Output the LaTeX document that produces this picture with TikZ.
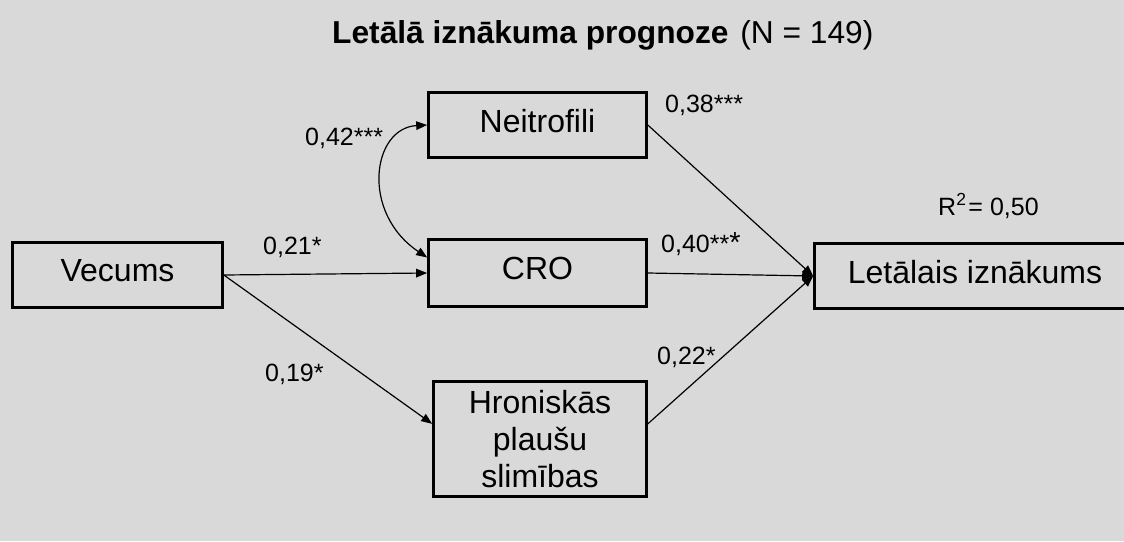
\documentclass[tikz,border=0pt]{standalone}
\usepackage{fontspec}
\setmainfont{Liberation Sans}
\usetikzlibrary{arrows.meta}
\definecolor{bg}{HTML}{D9D9D9}
\begin{document}
\begin{tikzpicture}[x=1pt,y=-1pt,
  box/.style={draw=black,line width=2.6pt,fill=none,inner sep=0pt,
    font=\fontsize{32}{37}\selectfont},
  sbox/.style={box,text depth=9pt},
  lbl/.style={font=\fontsize{25}{30}\selectfont,anchor=base west,inner sep=0pt},
  tip/.tip={Triangle[length=11pt,width=8.5pt]},
  conn/.style={line width=1.2pt,-tip},
  conn2/.style={line width=1.2pt,tip-tip},
]
\useasboundingbox (0,0) rectangle (1124,541);
\fill[bg] (0,0) rectangle (1124,541);
\clip (0,0) rectangle (1124,541);

% title
\node[anchor=base west,inner sep=0pt,font=\fontsize{31.7}{36}\selectfont] (title) at (332,43)
  {\bfseries Letālā iznākuma prognoze\mdseries{}\kern3pt{} (N = 149)};

% boxes
\node[sbox,minimum width=218pt,minimum height=65pt] (nei) at (537.5,125) {Neitrofili};
\node[sbox,minimum width=218pt,minimum height=67pt] (cro) at (537.5,273) {CRO};
\node[sbox,minimum width=210pt,minimum height=65pt] (vec) at (117.5,275) {Vecums};
\node[box,minimum width=213pt,minimum height=115pt,align=center] (hro) at (540,439)
  {Hroniskās\\plaušu\\slimības};
\node[sbox,minimum width=321pt,minimum height=65pt] (let) at (975,276) {Letālais iznākums};

% connectors
\draw[conn] (vec.east) -- (cro.west);
\draw[conn] (vec.east) -- (hro.172);
\draw[conn] (nei.east) -- (let.west);
\draw[conn] (cro.east) -- (let.west);
\draw[conn] (hro.8) -- (let.west);
\draw[conn2] (nei.west) .. controls +(-55,3) and +(-67,-45) .. (cro.172);

% labels
\node[lbl] (l42) at (305,145) {0,42***};
\node[lbl] (l38) at (665,112) {0,38***};
\node[lbl] (l21) at (263,254) {0,21*};
\node[lbl] (l40) at (661,252) {0,40**{\fontsize{29}{30}\selectfont *}};
\node[lbl] (l19) at (265,381) {0,19*};
\node[lbl] (l22) at (657,364) {0,22*};
\node[lbl] (r2) at (938,215) {R\textsuperscript{2}\kern2pt= 0,50};
\end{tikzpicture}
\end{document}
